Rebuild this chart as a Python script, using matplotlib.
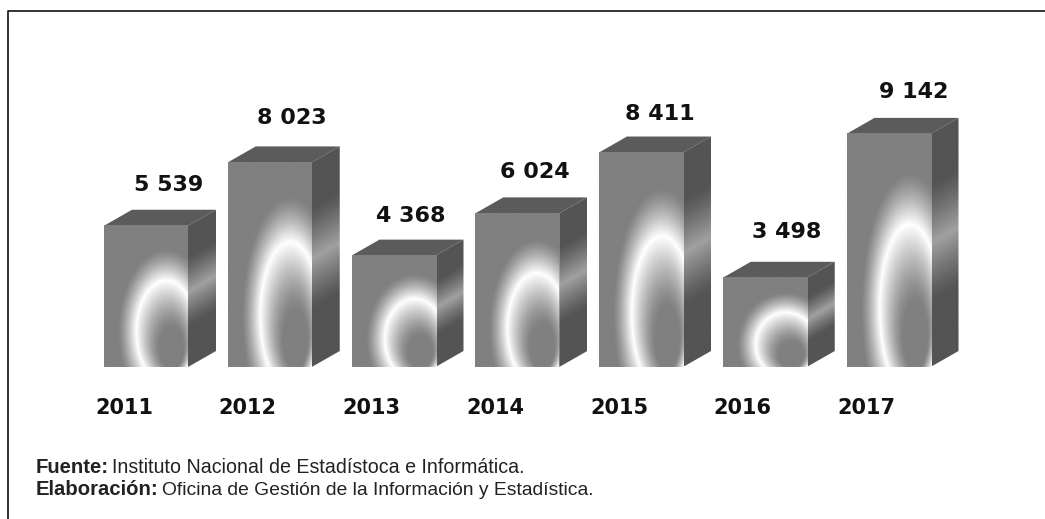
import numpy as np
import matplotlib
matplotlib.use("Agg")
import matplotlib.pyplot as plt
from matplotlib.colors import LinearSegmentedColormap
from matplotlib.lines import Line2D
from matplotlib.patches import Polygon

years = ["2011", "2012", "2013", "2014", "2015", "2016", "2017"]
values = [5539, 8023, 4368, 6024, 8411, 3498, 9142]
labels = ["5 539", "8 023", "4 368", "6 024", "8 411", "3 498", "9 142"]
label_dx = [23, 22, 17, 18, 19, 22, 25]
label_dy = [41, 44, 40, 41, 39, 46, 42]

W, H = 1045, 519
fig = plt.figure(figsize=(W / 100, H / 100), dpi=100, facecolor="white")

# Axes: baseline at y=367 px, first bar centre at 146 px, spacing 123.75 px
px_u = 123.75
left = 146 - 0.5 * px_u
ax = fig.add_axes([left / W, (H - 367) / H, 7.5 * px_u / W, 255 / H])
ax.axis("off")

bar_w = 84 / px_u
dep_x = 28 / px_u
dep_y = 16 * 10000 / 255

gray_cmap = LinearSegmentedColormap.from_list("f", ["#000000", "#ffffff"])


def front_img(n=400):
    u, v = np.meshgrid(np.linspace(0, 1, n), np.linspace(0, 1, n))
    # normalised ring coordinates; the inner shading runs from an off-centre focus
    px_, py_ = (u - 0.74) / 0.355, (v - 0.25) / 0.36
    r = np.hypot(px_, py_)
    fx_, fy_ = 0.31, -0.55
    dx_, dy_ = px_ - fx_, py_ - fy_
    a = dx_ ** 2 + dy_ ** 2 + 1e-9
    b = fx_ * dx_ + fy_ * dy_
    c = fx_ ** 2 + fy_ ** 2 - 1
    s = (-b + np.sqrt(b ** 2 - a * c)) / a
    t = 1 / s
    g = np.full_like(r, 0.50)
    inner = r < 1
    g[inner] = 0.50 + 0.50 * np.clip((t[inner] - 0.40) / 0.60, 0, 1) ** 1.3
    g[~inner] = 0.50 + 0.50 * np.clip(1 - (r[~inner] - 1) / 0.62, 0, 1) ** 1.3
    return g


def side_img(value, n=400):
    u, y = np.meshgrid(np.linspace(0, 1, 40), np.linspace(0, value + dep_y, n))
    v = (y - u * dep_y) / value
    d = np.clip(np.abs(v - 0.53) / 0.25, 0, 1)
    return 0.33 + 0.30 * (1 - d) ** 1.2


for i, val in enumerate(values):
    x0, x1 = i - bar_w / 2, i + bar_w / 2
    ax.add_patch(Polygon([(x0, val), (x1, val), (x1 + dep_x, val + dep_y), (x0 + dep_x, val + dep_y)],
                         closed=True, fc="#5b5b5b", ec="none", zorder=2))
    im = ax.imshow(side_img(val), extent=(x1, x1 + dep_x, 0, val + dep_y), origin="lower",
                   cmap=gray_cmap, vmin=0, vmax=1, aspect="auto", zorder=2, interpolation="bilinear")
    im.set_clip_path(Polygon([(x1, 0), (x1 + dep_x, dep_y), (x1 + dep_x, val + dep_y), (x1, val)],
                             closed=True, transform=ax.transData))
    ax.imshow(front_img(), extent=(x0, x1, 0, val), origin="lower", cmap=gray_cmap,
              vmin=0, vmax=1, aspect="auto", zorder=3, interpolation="bilinear")
    ax.annotate(labels[i], (i, val), xytext=(label_dx[i], label_dy[i]), textcoords="offset pixels",
                ha="center", va="center", fontsize=16, fontweight="bold",
                color="#111111", family="DejaVu Sans", annotation_clip=False)
    ax.annotate(years[i], (i, 0), xytext=(-22, -41), textcoords="offset pixels",
                ha="center", va="center", fontsize=15, fontweight="bold",
                color="#111111", family="DejaVu Sans", annotation_clip=False)

ax.set_xlim(-0.5, 7.0)
ax.set_ylim(0, 10000)


def px_text(x, y, s, size=14.1, **kw):
    fig.text(x / W, 1 - y / H, s, ha="left", va="baseline", family="Liberation Sans",
             fontsize=size, color="#222222", **kw)


px_text(36, 473, "Fuente:", size=14.6, fontweight="bold")
px_text(112, 473, "Instituto Nacional de Estadístoca e Informática.")
px_text(36, 495, "Elaboración:", size=14.6, fontweight="bold")
px_text(162, 495, "Oficina de Gestión de la Información y Estadística.", size=13.9)

# Frame: left and top rules only
fig.add_artist(Line2D([8 / W, 8 / W, 1], [0, 1 - 10.5 / H, 1 - 10.5 / H],
                      color="#111111", lw=1.2, transform=fig.transFigure))

fig.savefig("out.png", dpi=100, facecolor="white")
